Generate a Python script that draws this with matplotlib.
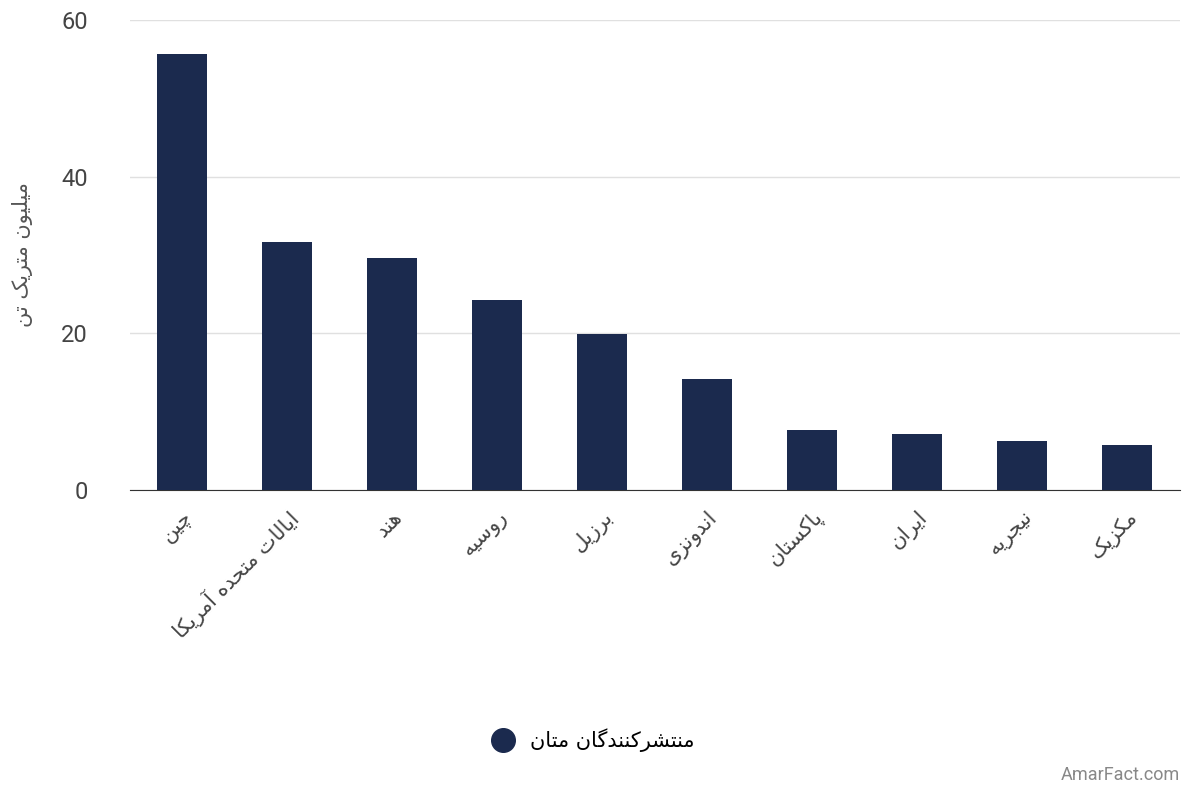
import matplotlib
matplotlib.use("Agg")
import matplotlib.pyplot as plt
from matplotlib.lines import Line2D

countries = ["چین", "ایالات متحده آمریکا", "هند", "روسیه", "برزیل",
             "اندونزی", "پاکستان", "ایران", "نیجریه", "مکزیک"]
values = [55.7, 31.6, 29.6, 24.2, 19.9, 14.2, 7.6, 7.1, 6.3, 5.8]
y_ticks = [0, 20, 40, 60]
y_label = "میلیون متریک تن"
legend_label = "منتشرکنندگان متان"

# iso, fin, ini, med (None for letters that don't join forward)
FORMS = {
	"ا": (0xFE8D, 0xFE8E, None, None), "آ": (0xFE81, 0xFE82, None, None),
	"ب": (0xFE8F, 0xFE90, 0xFE91, 0xFE92), "پ": (0xFB56, 0xFB57, 0xFB58, 0xFB59),
	"ت": (0xFE95, 0xFE96, 0xFE97, 0xFE98), "ج": (0xFE9D, 0xFE9E, 0xFE9F, 0xFEA0),
	"چ": (0xFB7A, 0xFB7B, 0xFB7C, 0xFB7D), "ح": (0xFEA1, 0xFEA2, 0xFEA3, 0xFEA4),
	"د": (0xFEA9, 0xFEAA, None, None), "ر": (0xFEAD, 0xFEAE, None, None),
	"ز": (0xFEAF, 0xFEB0, None, None), "س": (0xFEB1, 0xFEB2, 0xFEB3, 0xFEB4),
	"ش": (0xFEB5, 0xFEB6, 0xFEB7, 0xFEB8), "ک": (0xFB8E, 0xFB8F, 0xFB90, 0xFB91),
	"گ": (0xFB92, 0xFB93, 0xFB94, 0xFB95), "ل": (0xFEDD, 0xFEDE, 0xFEDF, 0xFEE0),
	"م": (0xFEE1, 0xFEE2, 0xFEE3, 0xFEE4), "ن": (0xFEE5, 0xFEE6, 0xFEE7, 0xFEE8),
	"و": (0xFEED, 0xFEEE, None, None), "ه": (0xFEE9, 0xFEEA, 0xFEEB, 0xFEEC),
	"ی": (0xFBFC, 0xFBFD, 0xFBFE, 0xFBFF),
}


def shape(s):
	out = []
	for i, c in enumerate(s):
		if c not in FORMS:
			out.append(c)
			continue
		prev = s[i - 1] if i > 0 else ""
		nxt = s[i + 1] if i + 1 < len(s) else ""
		join_prev = prev in FORMS and FORMS[prev][2] is not None
		join_next = nxt in FORMS and FORMS[c][2] is not None
		f = FORMS[c]
		if join_prev and join_next:
			code = f[3]
		elif join_prev:
			code = f[1]
		elif join_next:
			code = f[2]
		else:
			code = f[0]
		out.append(chr(code))
	return "".join(out)[::-1]


plt.rcParams["font.family"] = ["Roboto", "DejaVu Sans"]

fig = plt.figure(figsize=(12, 8), dpi=100)
ax = fig.add_axes([0.108, 0.3875, 0.875, 0.5875])
x = range(len(countries))
ax.bar(x, values, width=0.48, color="#1b2a4e", zorder=3)
ax.set_xlim(-0.5, len(countries) - 0.5)
ax.set_ylim(0, 60)
ax.set_yticks(y_ticks)
ax.tick_params(axis="y", length=0, labelsize=17, colors="#444444", pad=30)
ax.tick_params(axis="x", length=0, pad=12)
ax.grid(axis="y", color="#e0e0e0", lw=1, zorder=0)
for s in ["top", "right", "left"]:
	ax.spines[s].set_visible(False)
ax.spines["bottom"].set_color("#333333")
ax.set_xticks(list(x))
ax.set_xticklabels([shape(c) for c in countries], rotation=45, ha="right",
                   rotation_mode="anchor", fontsize=15, color="#444444",
                   family="DejaVu Sans")
for lbl in ax.get_xticklabels():
	lbl.set_x(lbl.get_position()[0])
ax.set_ylabel(shape(y_label), fontsize=15, color="#555555", family="DejaVu Sans", labelpad=20)

handle = Line2D([], [], marker="o", ls="", color="#1b2a4e", markersize=17)
fig.legend([handle], [shape(legend_label)], loc="center", bbox_to_anchor=(0.49, 0.075),
           frameon=False, prop={"family": "DejaVu Sans", "size": 15}, handletextpad=0.3)
fig.text(0.983, 0.02, "AmarFact.com", ha="right", va="bottom", fontsize=13, color="#888888")

fig.savefig("out.png")
